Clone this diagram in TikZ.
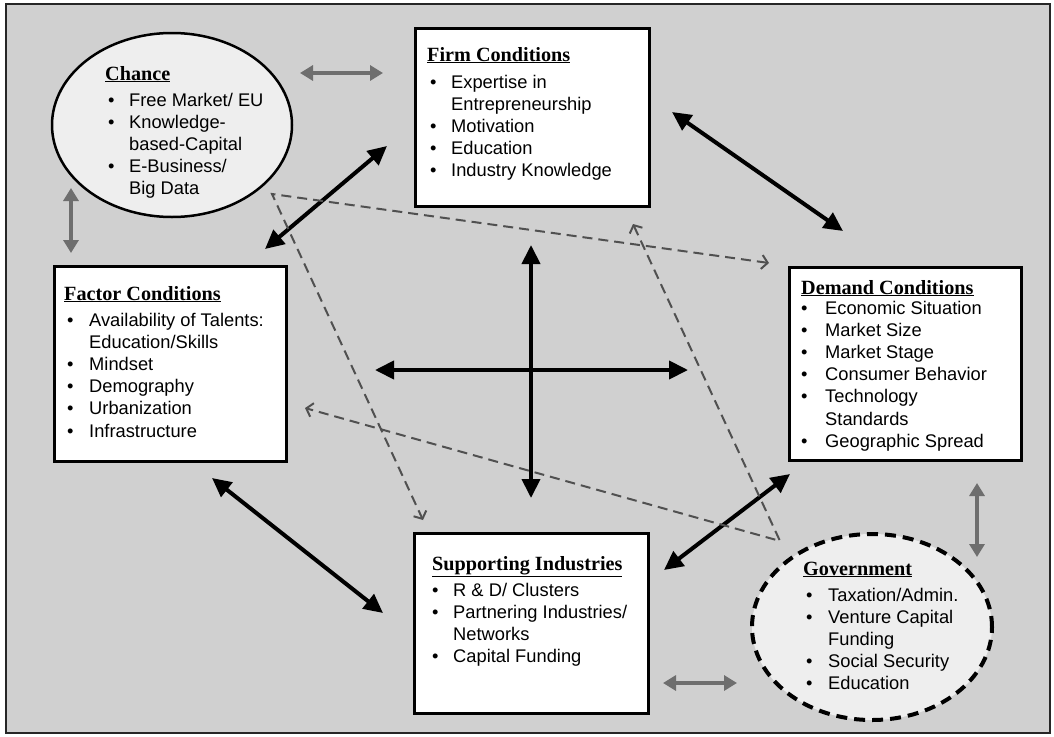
\documentclass[tikz,border=0pt]{standalone}
\usepackage{fontspec}
\setmainfont{Liberation Serif}
\newfontfamily\arialf{Liberation Sans}
\usetikzlibrary{arrows.meta,shapes.geometric}
\definecolor{bgray}{HTML}{D0D0D0}
\definecolor{lgray}{HTML}{EEEEEE}
\definecolor{agray}{HTML}{6E6E6E}
\definecolor{dgray}{HTML}{505050}
\newcommand{\ttl}[1]{\fontsize{20.2}{24}\selectfont\bfseries\underline{#1}}
\newcommand{\blist}[2]{{\arialf\fontsize{18.3}{22.2}\selectfont\begin{tabular}[t]{@{}p{#1}@{}l@{}}#2\end{tabular}}}
\newcommand{\bu}{\textbullet}
\begin{document}
\begin{tikzpicture}[x=1pt,y=-1pt,
  boxnode/.style={draw=black, line width=2.5pt, fill=white, rectangle, inner sep=0pt, anchor=north west},
  chancenode/.style={draw=black, line width=2.5pt, fill=lgray, ellipse, inner sep=0pt},
  govnode/.style={draw=black, line width=4pt, dash pattern=on 11pt off 7pt, fill=lgray, ellipse, inner sep=0pt},
  txt/.style={inner sep=0pt, anchor=base west},
  bigarr/.style={{Triangle[length=19pt,width=18pt]}-{Triangle[length=19pt,width=18pt]}, line width=4pt, black},
  grayarr/.style={{Triangle[length=13pt,width=15pt]}-{Triangle[length=13pt,width=15pt]}, line width=3.2pt, agray},
  dasharr/.style={dgray, line width=2pt, dash pattern=on 10pt off 6pt, {Straight Barb[length=6pt,width=14pt]}-{Straight Barb[length=6pt,width=14pt]}}
]
\useasboundingbox (0,0) rectangle (1054,736);
\fill[white] (0,0) rectangle (1054,736);
\draw[line width=2pt, draw=black!85, fill=bgray] (6,4) rectangle (1050,733);

% boxes
\node[boxnode, minimum width=234pt, minimum height=178pt] (firm) at (414,27) {};
\node[boxnode, minimum width=232pt, minimum height=195pt] (factor) at (53,265) {};
\node[boxnode, minimum width=232pt, minimum height=193pt] (demand) at (788,266) {};
\node[boxnode, minimum width=234pt, minimum height=180pt] (support) at (413,532) {};
\node[chancenode, minimum width=240pt, minimum height=184pt] (chance) at (172,125) {};
\node[govnode, minimum width=240pt, minimum height=186pt] (gov) at (872,627) {};

% texts
\node[txt] (firmT) at (427,61) {\ttl{Firm Conditions}};
\node[txt] (firmL) at (430,88) {\blist{21pt}{\bu & Expertise in\\ & Entrepreneurship\\ \bu & Motivation\\ \bu & Education\\ \bu & Industry Knowledge}};

\node[txt] (factorT) at (64,300) {\ttl{Factor Conditions}};
\node[txt] (factorL) at (67,326) {\blist{22pt}{\bu & Availability of Talents:\\ & Education/Skills\\ \bu & Mindset\\ \bu & Demography\\ \bu & Urbanization\\ \bu & Infrastructure}};

\node[txt] (demandT) at (801,294) {\ttl{Demand Conditions}};
\node[txt] (demandL) at (801,314) {\blist{24pt}{\bu & Economic Situation\\ \bu & Market Size\\ \bu & Market Stage\\ \bu & Consumer Behavior\\ \bu & Technology\\ & Standards\\ \bu & Geographic Spread}};

\node[txt] (supportT) at (432,570) {\ttl{Supporting Industries}};
\node[txt] (supportL) at (432,596) {\blist{21pt}{\bu & R \& D/ Clusters\\ \bu & Partnering Industries/\\ & Networks\\ \bu & Capital Funding}};

\node[txt] (chanceT) at (105,80) {\ttl{Chance}};
\node[txt] (chanceL) at (108,106) {\blist{21pt}{\bu & Free Market/ EU\\ \bu & Knowledge-\\ & based-Capital\\ \bu & E-Business/\\ & Big Data}};

\node[txt] (govT) at (803,575) {\ttl{Government}};
\node[txt] (govL) at (806,601) {\blist{22pt}{\bu & Taxation/Admin.\\ \bu & Venture Capital\\ & Funding\\ \bu & Social Security\\ \bu & Education}};

% arrow end points
\coordinate (faA) at (265,249);  \coordinate (fiA) at (387,146);
\coordinate (fiB) at (672,112);  \coordinate (deA) at (843,231);
\coordinate (fiC) at (531,245);  \coordinate (suA) at (531,498);
\coordinate (faB) at (375,370);  \coordinate (deB) at (688,370);
\coordinate (faC) at (212,478);  \coordinate (suB) at (383,613);
\coordinate (suC) at (664,570);  \coordinate (deC) at (790,474);
\coordinate (chA) at (300,73);   \coordinate (fiD) at (383,73);
\coordinate (chB) at (71,188);   \coordinate (faD) at (71,253);
\coordinate (deD) at (977,483);  \coordinate (goA) at (977,557);
\coordinate (suD) at (663,683);  \coordinate (goB) at (737,683);
\coordinate (chC) at (272,194);  \coordinate (deE) at (769,263);  \coordinate (suE) at (423,520);
\coordinate (goC) at (780,541);  \coordinate (fiE) at (633,224);  \coordinate (faE) at (305,408);

% black arrows
\draw[bigarr] (faA) -- (fiA);
\draw[bigarr] (fiB) -- (deA);
\draw[bigarr] (fiC) -- (suA);
\draw[bigarr] (faB) -- (deB);
\draw[bigarr] (faC) -- (suB);
\draw[bigarr] (suC) -- (deC);
% gray arrows
\draw[grayarr] (chA) -- (fiD);
\draw[grayarr] (chB) -- (faD);
\draw[grayarr] (deD) -- (goA);
\draw[grayarr] (suD) -- (goB);
% dashed arrows
\draw[dasharr] (deE) -- (chC) -- (suE);
\draw[dasharr] (fiE) -- (goC) -- (faE);
\end{tikzpicture}
\end{document}
